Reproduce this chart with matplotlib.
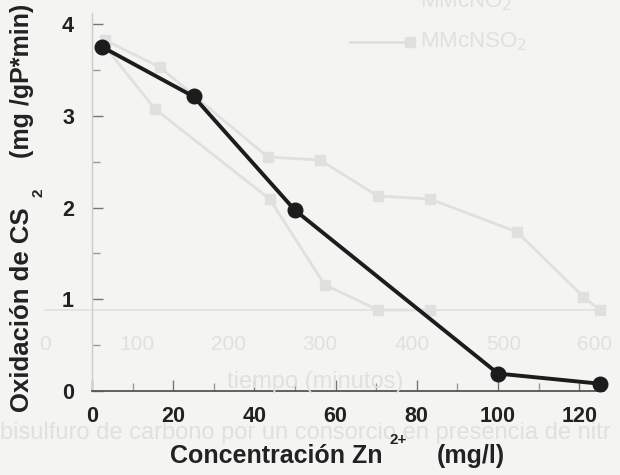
import matplotlib
matplotlib.use("Agg")
import matplotlib.pyplot as plt
from matplotlib.ticker import MultipleLocator

plt.rcParams['font.family'] = ['Liberation Sans', 'DejaVu Sans']

# Main data
zn_conc = [2.5, 25, 50, 100, 125]
oxidation = [3.75, 3.21, 1.97, 0.19, 0.08]
x_ticks = [0, 20, 40, 60, 80, 100, 120]
y_ticks = [0, 1, 2, 3, 4]

# Faint show-through chart behind (tiempo axis)
ghost_t_a = [65, 125, 243, 300, 363, 420, 515, 587, 605]
ghost_y_a = [9.0, 8.1, 5.1, 5.0, 3.8, 3.7, 2.6, 0.45, 0.0]
ghost_t_b = [65, 120, 245, 305, 363, 420]
ghost_y_b = [8.8, 6.7, 3.7, 0.85, 0.0, 0.0]
ghost_ticks = [0, 100, 200, 300, 400, 500, 600]

W, H = 620, 475
bg = '#f4f4f2'
ghost = '#e0e0de'
fig = plt.figure(figsize=(W / 100, H / 100), dpi=100, facecolor=bg)

def px_axes(x0, y0, x1, y1, **kw):
    # pixel coords with y measured from top
    return fig.add_axes([x0 / W, 1 - y1 / H, (x1 - x0) / W, (y1 - y0) / H], **kw)

# ghost axes
axg = px_axes(45, 10, 595, 310)
axg.set_facecolor('none')
axg.set_xlim(0, 600)
axg.set_ylim(0, 10)
for s in ['top', 'right', 'left']:
    axg.spines[s].set_visible(False)
axg.spines['bottom'].set_color(ghost)
axg.spines['bottom'].set_linewidth(1.2)
axg.set_yticks([])
axg.set_xticks(ghost_ticks)
axg.tick_params(axis='x', length=0, pad=18, labelsize=15, labelcolor=ghost)
axg.plot(ghost_t_a, ghost_y_a, color=ghost, lw=2.0, marker='s', ms=7, clip_on=False)
axg.plot(ghost_t_b, ghost_y_b, color=ghost, lw=2.0, marker='s', ms=7, clip_on=False)
fig.text(315 / W, 1 - 382 / H, 'tiempo (minutos)', color=ghost, fontsize=17,
         ha='center', va='center')
fig.text(0 / W, 1 - 433 / H, 'bisulfuro de carbono por un consorcio en presencia de nitr',
         color=ghost, fontsize=17, ha='left', va='center')
fig.text(420 / W, 1 - 2 / H, 'MMcNO$_2$', color=ghost, fontsize=16, ha='left', va='center')
fig.text(420 / W, 1 - 42 / H, 'MMcNSO$_2$', color=ghost, fontsize=16, ha='left', va='center')
fig.lines.append(plt.Line2D([350 / W, 410 / W], [1 - 42 / H, 1 - 42 / H],
                            transform=fig.transFigure, color=ghost, lw=2.0,
                            marker='s', markevery=[1], ms=7))

# main axes: x 0 at px 92, 4.06 px/unit ; y 0 at px 391, 91.75 px/unit
x_max = 126
y_max = 4.12
ax = px_axes(92, 391 - y_max * 91.75, 92 + x_max * 4.06, 391)
ax.set_facecolor('none')
ax.set_xlim(0, x_max)
ax.set_ylim(0, y_max)
ax.spines['top'].set_visible(False)
ax.spines['right'].set_visible(False)
ax.spines['left'].set_color('#cccccc')
ax.spines['left'].set_linewidth(1.0)
ax.spines['bottom'].set_color('#555555')
ax.spines['bottom'].set_linewidth(1.3)

ax.plot(zn_conc, oxidation, color='#1c1c1c', lw=2.8, marker='o', ms=10.5,
        clip_on=False, zorder=5)

ax.set_xticks(x_ticks)
ax.set_yticks(y_ticks)
ax.xaxis.set_minor_locator(MultipleLocator(10))
ax.yaxis.set_minor_locator(MultipleLocator(0.5))
ax.tick_params(axis='both', which='major', direction='in', length=8, width=1,
               color='#777777', labelsize=15.5, labelcolor='#222222')
ax.tick_params(axis='both', which='minor', direction='in', length=6, width=1,
               color='#999999')
ax.tick_params(axis='x', pad=11)
ax.tick_params(axis='y', pad=13)
for lab in ax.get_xticklabels() + ax.get_yticklabels():
    lab.set_fontweight('bold')

# x label with separate superscript
lab_color = '#222222'
fig.text(170 / W, 1 - 456 / H, 'Concentración Zn', fontsize=18, fontweight='bold',
         color=lab_color, ha='left', va='center')
fig.text(390 / W, 1 - 440 / H, '2+', fontsize=11, fontweight='bold',
         color=lab_color, ha='left', va='center')
fig.text(505 / W, 1 - 456 / H, '(mg/l)', fontsize=18, fontweight='bold',
         color=lab_color, ha='right', va='center')

# y label with separate subscript
fig.text(22 / W, 1 - 412 / H, 'Oxidación de CS', fontsize=18.5, fontweight='bold',
         color=lab_color, ha='center', va='bottom', rotation=90)
fig.text(39 / W, 1 - 193 / H, '2', fontsize=11, fontweight='bold',
         color=lab_color, ha='center', va='center', rotation=90)
fig.text(22 / W, 1 - 4 / H, '(mg /gP*min)', fontsize=18, fontweight='bold',
         color=lab_color, ha='center', va='top', rotation=90)

fig.savefig('out.png', dpi=100, facecolor=bg)
